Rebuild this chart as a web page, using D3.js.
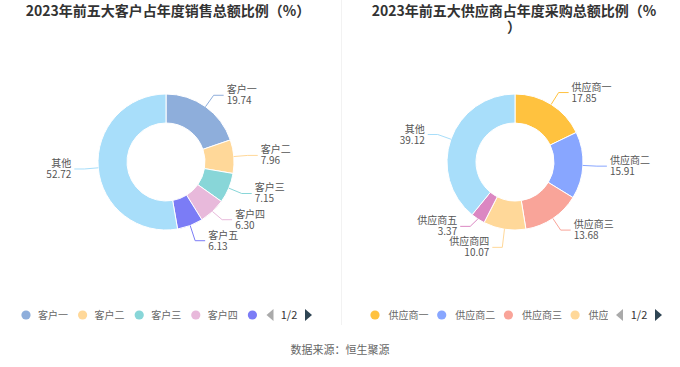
<!DOCTYPE html>
<html><head><meta charset="utf-8">
<script src="https://cdn.jsdelivr.net/npm/d3@7/dist/d3.min.js"></script>
<style>
html,body{margin:0;padding:0;background:#fff;}
svg{display:block;font-family:"Noto Sans CJK SC","Noto Sans",sans-serif;}
</style></head><body>
<svg id="c" width="680" height="367"></svg>
<script>
const customerNames = ["客户一","客户二","客户三","客户四","客户五","其他"];
const customerValues = [19.74, 7.96, 7.15, 6.30, 6.13, 52.72];
const customerColors = ["#8EAEDB","#FFD899","#88D6D8","#E8B9DB","#7B7CF6","#A8DEFA"];

const supplierNames = ["供应商一","供应商二","供应商三","供应商四","供应商五","其他"];
const supplierValues = [17.85, 15.91, 13.68, 10.07, 3.37, 39.12];
const supplierColors = ["#FFC23F","#88A6FF","#F9A499","#FFD899","#DB87C2","#A8DEFA"];

const leftTitle = ["2023年前五大客户占年度销售总额比例（%）"];
const rightTitle = ["2023年前五大供应商占年度采购总额比例（%", "）"];
const leftLegend = ["客户一","客户二","客户三","客户四",""];
const rightLegend = ["供应商一","供应商二","供应商三","供应"];
const pageLabel = "1/2";
const source = "数据来源：恒生聚源";

const svg = d3.select("#c");

svg.append("line").attr("x1",341.5).attr("x2",341.5).attr("y1",0).attr("y2",325)
  .attr("stroke","#f2f2f2").attr("stroke-width",1);

function title(lines, cx){
  const t = svg.append("text").attr("text-anchor","middle").attr("font-size",14)
    .attr("font-weight","bold").attr("fill","#333");
  lines.forEach((l,i)=>t.append("tspan").attr("x",cx).attr("y",16+i*16).text(l));
}
title(leftTitle, 168);
title(rightTitle, 514);

function donut(names, values, colors, cx, cy){
  const R = 68, r0 = 39, GAP = 21;
  const pie = d3.pie().sort(null).value(d=>d)(values);
  const arc = d3.arc().innerRadius(r0).outerRadius(R);
  const g = svg.append("g").attr("transform",`translate(${cx},${cy})`);
  g.selectAll("path").data(pie).join("path")
    .attr("d",arc).attr("fill",(d,i)=>colors[i])
    .attr("stroke","#fff").attr("stroke-width",1);
  const labs = pie.map((d,i)=>{
    const a = (d.startAngle+d.endAngle)/2;
    return {i, sx:R*Math.sin(a), sy:-R*Math.cos(a),
      ex:(R+14)*Math.sin(a), ey:-(R+14)*Math.cos(a), right:Math.sin(a)>=0};
  });
  // simple overlap relaxation per side
  [true,false].forEach(side=>{
    const s = labs.filter(l=>l.right===side).sort((a,b)=>a.ey-b.ey);
    for(let it=0; it<50; it++){
      for(let k=1;k<s.length;k++){
        const d = s[k].ey - s[k-1].ey;
        if(d < GAP){ const m=(GAP-d)/2; s[k].ey+=m; s[k-1].ey-=m; }
      }
    }
  });
  labs.forEach(L=>{
    const i = L.i, right = L.right;
    const lx = L.ex + (right?10:-10);
    g.append("polyline").attr("points",`${L.sx},${L.sy} ${L.ex},${L.ey} ${lx},${L.ey}`)
      .attr("fill","none").attr("stroke",colors[i]).attr("stroke-width",1);
    const t = g.append("text").attr("text-anchor",right?"start":"end")
      .attr("font-size",10).attr("fill","#555");
    const tx = lx + (right?3:-3);
    t.append("tspan").attr("x",tx).attr("y",L.ey-5.5).attr("dy","0.35em").text(names[i]);
    t.append("tspan").attr("x",tx).attr("y",L.ey+5.5).attr("dy","0.35em").text(values[i].toFixed(2));
  });
}
donut(customerNames, customerValues, customerColors, 166, 162);
donut(supplierNames, supplierValues, supplierColors, 515, 162);

function legend(items, colors, x0, step, textOff, prevX, pageX, nextX, clipRight){
  const y = 315;
  const g = svg.append("g");
  const id = "clip"+x0;
  svg.append("clipPath").attr("id",id).append("rect")
    .attr("x",x0-10).attr("y",y-10).attr("width",clipRight-(x0-10)).attr("height",20);
  const gi = g.append("g").attr("clip-path",`url(#${id})`);
  items.forEach((name,i)=>{
    const x = x0 + i*step;
    gi.append("circle").attr("cx",x).attr("cy",y).attr("r",4.6).attr("fill",colors[i]);
    gi.append("text").attr("x",x+textOff).attr("y",y).attr("dy","0.35em")
      .attr("font-size",10).attr("fill","#666").text(name);
  });
  g.append("path").attr("d",`M${prevX+3.5},${y-6} L${prevX-3.5},${y} L${prevX+3.5},${y+6} Z`).attr("fill","#aaa");
  g.append("text").attr("x",pageX).attr("y",y).attr("dy","0.35em").attr("text-anchor","middle")
    .attr("font-size",11).attr("fill","#333").text(pageLabel);
  g.append("path").attr("d",`M${nextX-3.5},${y-6} L${nextX+3.5},${y} L${nextX-3.5},${y+6} Z`).attr("fill","#2F4554");
}
legend(leftLegend, customerColors, 26, 56.6, 12, 270, 289, 308.5, 262);
legend(rightLegend, supplierColors, 375, 66.7, 13.5, 619.5, 639, 658.5, 608);

svg.append("text").attr("x",340).attr("y",350).attr("dy","0.35em").attr("text-anchor","middle")
  .attr("font-size",11).attr("fill","#666").text(source);
</script>
</body></html>
